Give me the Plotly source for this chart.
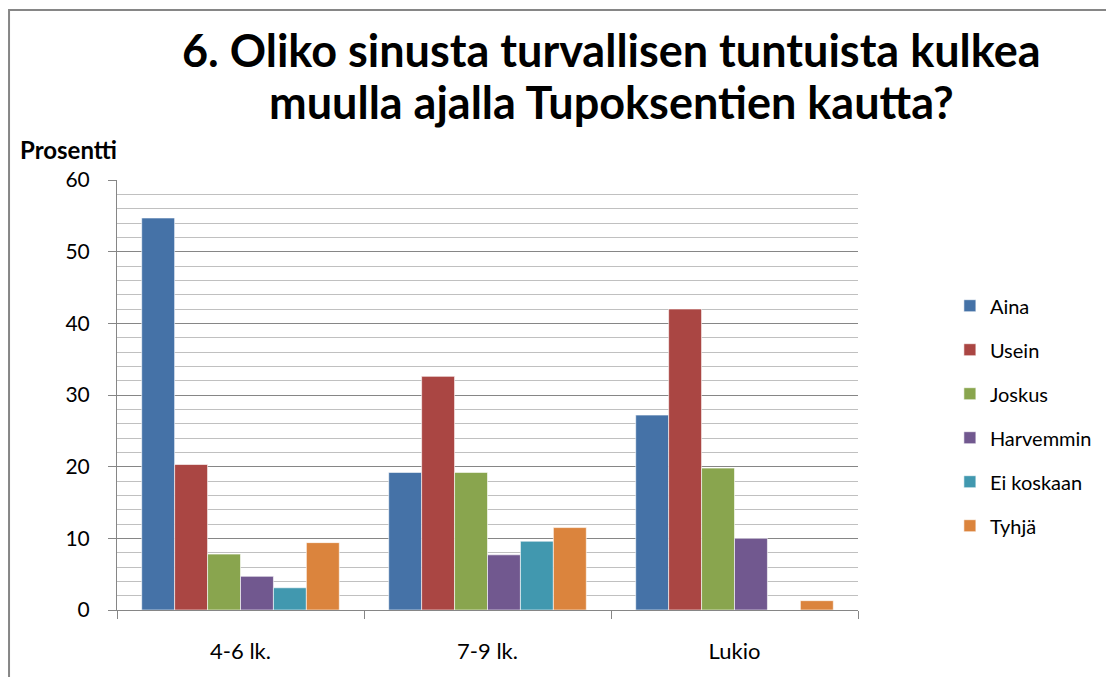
import plotly.graph_objects as go

categories = ["4-6 lk.", "7-9 lk.", "Lukio"]
series_names = ["Aina", "Usein", "Joskus", "Harvemmin", "Ei koskaan", "Tyhjä"]
aina = [54.7, 19.2, 27.2]
usein = [20.3, 32.6, 42.0]
joskus = [7.8, 19.2, 19.8]
harvemmin = [4.7, 7.7, 10.0]
ei_koskaan = [3.1, 9.6, 0.0]
tyhja = [9.4, 11.5, 1.3]
colors = ["#4572A7", "#AA4643", "#89A54E", "#71588F", "#4198AF", "#DB843D"]
y_ticks = [0, 10, 20, 30, 40, 50, 60]
title_lines = ["6. Oliko sinusta turvallisen tuntuista kulkea",
               "muulla ajalla Tupoksentien kautta?"]

series_values = [aina, usein, joskus, harvemmin, ei_koskaan, tyhja]
FONT = "Lato, 'Open Sans', sans-serif"

fig = go.Figure()
for i, (name, vals) in enumerate(zip(series_names, series_values)):
    fig.add_trace(go.Bar(
        x=categories, y=vals, name=name, legendgroup=name,
        marker=dict(color=colors[i], line=dict(color="rgba(255,255,255,0.6)", width=1)),
    ))

annotations = [
    dict(text=f"<b>{title_lines[0]}</b>", xref="paper", yref="paper",
         x=0.6667, y=1.302, xanchor="center", yanchor="middle", showarrow=False,
         font=dict(size=45, family=FONT, color="black")),
    dict(text=f"<b>{title_lines[1]}</b>", xref="paper", yref="paper",
         x=0.6667, y=1.181, xanchor="center", yanchor="middle", showarrow=False,
         font=dict(size=45, family=FONT, color="black")),
    dict(text="<b>Prosentti</b>", xref="paper", yref="paper",
         x=-0.1336, y=1.0698, xanchor="left", yanchor="middle",
         showarrow=False, font=dict(size=24, family=FONT, color="black")),
]

fig.update_layout(
    width=1106, height=669,
    paper_bgcolor="white", plot_bgcolor="white",
    barmode="group", bargap=0.2, bargroupgap=0,
    margin=dict(l=109, r=256, t=172, b=67),
    font=dict(family=FONT, color="black"),
    legend=dict(
        x=1.124, xanchor="left", y=0.753, yanchor="top",
        font=dict(size=20, family=FONT), tracegroupgap=15,
        itemwidth=30, bgcolor="rgba(0,0,0,0)",
    ),
    xaxis=dict(
        showgrid=False, showline=True, linecolor="#868686", linewidth=1,
        ticks="outside", tickson="boundaries", ticklen=8, tickcolor="#868686",
        tickfont=dict(size=22, family=FONT), ticklabelstandoff=22,
    ),
    yaxis=dict(
        range=[0, 60], tickvals=y_ticks, showgrid=True, gridcolor="#868686", gridwidth=1,
        showline=True, linecolor="#868686", linewidth=1,
        ticks="outside", ticklen=8, tickcolor="#868686",
        tickfont=dict(size=21, family=FONT), ticklabelstandoff=14,
        minor=dict(dtick=2, showgrid=True, gridcolor="#c0c0c0", gridwidth=1),
        zeroline=False,
    ),
    annotations=annotations,
    shapes=[dict(
        type="rect", xref="paper", yref="paper",
        x0=-0.1457, x1=1.5, y0=-0.5, y1=1.3953,
        line=dict(color="#868686", width=2), fillcolor="rgba(0,0,0,0)", layer="below",
    )],
)

fig.write_html("out.html")
